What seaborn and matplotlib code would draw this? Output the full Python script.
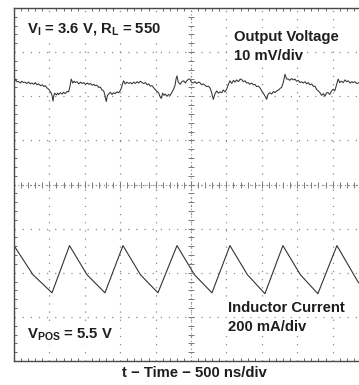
import numpy as np
import pandas as pd
import matplotlib
matplotlib.use("Agg")
import matplotlib.pyplot as plt
import seaborn as sns

# ---------------- data ----------------
# time axis: 500 ns/div, 10 divisions
v_time_ns = [0, 18, 40, 66, 90, 110, 135, 155, 180, 205, 230, 254, 280, 300, 325, 349, 375, 400, 420, 442,
             465, 490, 510, 527, 540, 551, 563, 575, 600, 615, 631, 655, 680, 700, 724, 750, 772, 790, 809, 830,
             850, 866, 890, 915, 940, 960, 985, 1010, 1035, 1055, 1080, 1105, 1125, 1148, 1170, 1195, 1219, 1240, 1267, 1285,
             1303, 1320, 1337, 1360, 1385, 1405, 1430, 1455, 1480, 1501, 1520, 1535, 1549, 1570, 1595, 1620, 1645, 1665, 1690, 1713,
             1740, 1760, 1785, 1807, 1830, 1855, 1880, 1902, 1925, 1950, 1973, 1995, 2020, 2043, 2060, 2080, 2100, 2120, 2136, 2160,
             2185, 2207, 2230, 2255, 2275, 2290, 2302, 2320, 2348, 2370, 2396, 2420, 2445, 2467, 2485, 2510, 2532, 2555, 2580, 2605,
             2626, 2650, 2675, 2697, 2720, 2745, 2768, 2790, 2815, 2840, 2863, 2885, 2910, 2933, 2955, 2980, 3004, 3025, 3050, 3075,
             3100, 3121, 3145, 3170, 3195, 3215, 3240, 3265, 3285, 3308, 3330, 3355, 3380, 3403, 3425, 3450, 3474, 3500, 3525, 3544,
             3568, 3590, 3615, 3640, 3665, 3685, 3709, 3735, 3760, 3780, 3805, 3827, 3850, 3873, 3895, 3920, 3945, 3968, 3990, 4015,
             4040, 4062, 4085, 4110, 4135, 4156, 4180, 4205, 4230, 4250, 4275, 4300, 4321, 4345, 4370, 4392, 4415, 4438, 4460, 4485,
             4509, 4530, 4555, 4579, 4600, 4625, 4650, 4675, 4700, 4721, 4745, 4770, 4791, 4815, 4840, 4862, 4885, 4910, 4935, 4960,
             4985, 5000]
# output voltage ripple, mV (10 mV/div)
v_ripple_mv = [2.7, 3.9, 3.3, 3.3, 3.0, 3.4, 3.1, 3.2, 2.9, 3.2, 2.8, 3.0, 2.7, 3.1, 2.6, 2.8, 2.4, 2.6, 2.2, 2.4,
               1.9, 1.6, 1.1, 0.7, 0.0, -1.1, 0.2, 0.7, 0.3, 0.7, 0.4, 0.8, 0.5, 0.9, 0.6, 1.1, 1.0, 2.2, 3.9, 3.0,
               3.4, 3.1, 3.3, 2.8, 3.2, 2.9, 3.1, 2.7, 3.0, 2.7, 2.9, 2.5, 2.7, 2.4, 2.5, 2.0, 2.1, 1.5, 1.2, 0.2,
               -1.2, 0.2, 0.5, 0.9, 0.4, 0.8, 0.6, 1.0, 0.8, 1.3, 2.0, 3.0, 3.5, 2.8, 3.2, 2.9, 3.1, 2.8, 3.2, 2.9,
               3.3, 3.0, 3.4, 3.1, 2.9, 3.1, 2.6, 2.8, 2.3, 2.4, 1.9, 1.5, 1.1, 0.8, 0.0, -0.5, 0.7, 0.2, 0.5, 0.0,
               0.4, 0.2, 0.9, 1.6, 2.5, 4.0, 4.6, 3.2, 2.7, 3.3, 3.5, 3.0, 3.6, 3.9, 3.9, 3.1, 3.0, 3.3, 2.9, 3.2,
               3.1, 2.6, 2.8, 2.5, 2.2, 2.3, 1.9, 0.9, -0.7, 0.6, 1.2, 0.7, 1.0, 0.8, 1.4, 1.0, 1.6, 2.6, 3.5, 2.9,
               3.6, 3.2, 3.7, 3.3, 3.9, 3.8, 3.3, 3.5, 3.0, 3.1, 2.7, 3.0, 2.6, 2.7, 2.2, 2.3, 1.9, 1.2, 0.6, 0.1,
               -0.7, 0.5, 0.8, 0.5, 1.1, 0.8, 1.2, 1.4, 1.8, 2.0, 3.2, 5.0, 3.9, 3.9, 3.6, 4.0, 3.7, 3.9, 3.4, 3.6,
               3.1, 3.3, 3.0, 3.3, 2.8, 3.1, 2.6, 2.8, 2.2, 2.3, 1.5, 1.2, 0.8, 0.2, 0.6, 0.0, 0.8, 0.8, 0.4, 1.2,
               1.6, 1.2, 2.6, 3.9, 3.1, 3.4, 3.1, 3.7, 3.3, 3.5, 3.0, 3.3, 3.1, 3.3, 2.9, 3.0, 3.2, 2.9, 3.1, 2.8,
               3.0, 2.9]

# inductor current vertices (200 mA/div)
i_time_ns = [0, 268, 537, 784, 1031, 1285, 1539, 1786, 2033, 2302, 2549, 2796,
             3050, 3297, 3544, 3798, 4045, 4292, 4561, 4858, 5000]
i_ripple_ma = [123, -9, -91, 123, -9, -91, 123, -9, -91, 123, -9, -91,
               123, -9, -95, 123, -9, -95, 123, -41, -91]

V_SCALE_MV = 10.0     # mV/div
I_SCALE_MA = 200.0    # mA/div
NS_PER_DIV = 500.0
V_POS_DIV = 2.0       # channel offsets on screen
I_POS_DIV = -2.0

# ---------------- style ----------------
sns.set_style("white")
plt.rcParams["font.family"] = ["Liberation Sans", "DejaVu Sans"]
plt.rcParams["mathtext.fontset"] = "custom"
plt.rcParams["mathtext.bf"] = "Liberation Sans:bold"
plt.rcParams["mathtext.rm"] = "Liberation Sans:bold"

fig = plt.figure(figsize=(3.59, 3.85), dpi=100)
ax = fig.add_axes([14 / 359, 24 / 385, 354 / 359, 353 / 385])

dfv = pd.DataFrame({"t": v_time_ns, "y": np.array(v_ripple_mv) / V_SCALE_MV + V_POS_DIV})
dfi = pd.DataFrame({"t": i_time_ns, "y": np.array(i_ripple_ma) / I_SCALE_MA + I_POS_DIV})

trace_col = "#333333"
sns.lineplot(data=dfv, x="t", y="y", ax=ax, color=trace_col, lw=0.75, sort=False, estimator=None)
sns.lineplot(data=dfi, x="t", y="y", ax=ax, color=trace_col, lw=0.8, sort=False, estimator=None)

ax.set_xlim(0, 10 * NS_PER_DIV)
ax.set_ylim(-4, 4)

# graticule
grid_col = "#8a8a8a"
ax.set_xticks(np.arange(0, 10 * NS_PER_DIV + 1, NS_PER_DIV))
ax.set_yticks(np.arange(-4, 5, 1))
ax.set_xticks(np.arange(0, 10 * NS_PER_DIV + 1, NS_PER_DIV / 5), minor=True)
ax.set_yticks(np.arange(-4, 4.01, 0.2), minor=True)
ax.grid(True, which="major", color=grid_col, linestyle=(0, (1, 5.5)), lw=0.9)
ax.tick_params(which="both", direction="in", labelbottom=False, labelleft=False,
               top=True, right=True, bottom=True, left=True, color="#666666")
ax.tick_params(which="major", length=0)
ax.tick_params(which="minor", length=2.5, width=0.7)
for s in ax.spines.values():
    s.set_color("#4a4a4a")
    s.set_linewidth(1.0)

# centre crosshair with fifth-division marks
fx = np.arange(0, 10 * NS_PER_DIV + 1, NS_PER_DIV / 5)
fy = np.arange(-4, 4.01, 0.2)
ax.plot(fx, np.zeros_like(fx), ls="none", marker="|", ms=4, mew=0.7, color="#777777")
ax.plot(np.full_like(fy, 5 * NS_PER_DIV), fy, ls="none", marker="_", ms=4, mew=0.7, color="#777777")
ax.axhline(0, color=grid_col, lw=0.8, ls=(0, (1, 2.5)))
ax.axvline(5 * NS_PER_DIV, color=grid_col, lw=0.8, ls=(0, (1, 2.5)))

# annotations
fs = 10.7
tc = "#1e1e1e"
box = dict(facecolor="white", edgecolor="none", pad=1.5)
ax.text(184, 3.52, r"$\mathbf{V_I}$ = 3.6 V, $\mathbf{R_L}$ = 550", fontsize=fs, fontweight="bold",
        color=tc, ha="left", va="center", bbox=box)
ax.text(3107, 3.34, "Output Voltage", fontsize=fs, fontweight="bold", color=tc,
        ha="left", va="center", bbox=box)
ax.text(3107, 2.91, "10 mV/div", fontsize=fs, fontweight="bold", color=tc,
        ha="left", va="center", bbox=box)
ax.text(3022, -2.80, "Inductor Current", fontsize=fs, fontweight="bold", color=tc,
        ha="left", va="center", bbox=box)
ax.text(3022, -3.23, "200 mA/div", fontsize=fs, fontweight="bold", color=tc,
        ha="left", va="center", bbox=box)
ax.text(184, -3.41, r"$\mathbf{V_{POS}}$ = 5.5 V", fontsize=fs, fontweight="bold", color=tc,
        ha="left", va="center", bbox=box)

ax.set_xlabel("")
ax.set_ylabel("")
fig.text(194 / 359, 1 - 373 / 385, "t \u2212 Time \u2212 500 ns/div", fontsize=fs, fontweight="bold",
         color=tc, ha="center", va="center")

fig.savefig("out.png", dpi=100)
